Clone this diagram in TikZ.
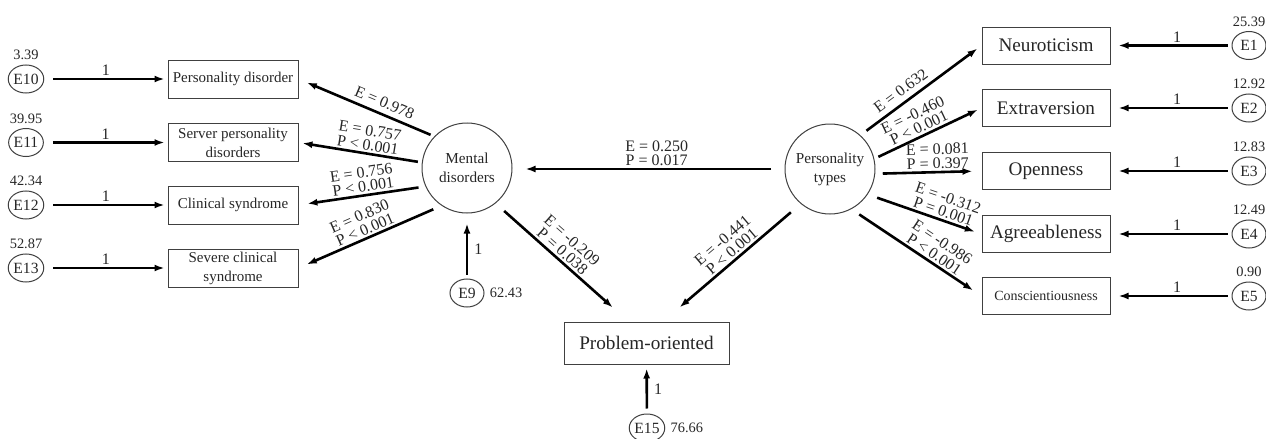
\documentclass[tikz,border=0pt]{standalone}
\usepackage{fontspec}
\setmainfont{Liberation Serif}
\usetikzlibrary{arrows.meta,shapes.geometric,calc}
\begin{document}
\begin{tikzpicture}[x=0.5pt,y=-0.5pt,
  every node/.style={text=black!85},
  box/.style={draw=black!75, line width=0.5pt, minimum width=65pt, minimum height=19pt, inner sep=1pt, align=center, font=\fontsize{7.5}{9.5}\selectfont},
  rbox/.style={draw=black!75, line width=0.5pt, minimum width=64pt, minimum height=18.5pt, inner sep=1pt, font=\fontsize{9.6}{11}\selectfont},
  lat/.style={draw=black!75, line width=0.5pt, circle, minimum size=45pt, inner sep=0pt, align=center, font=\fontsize{7.6}{9.5}\selectfont},
  err/.style={draw=black!75, line width=0.5pt, ellipse, minimum width=17pt, minimum height=14pt, inner sep=0pt, font=\fontsize{7.8}{9}\selectfont},
  arr/.style={line width=1.3pt, -{Latex[length=5pt,width=3.5pt]}},
  lbl/.style={font=\fontsize{8}{7.2}\selectfont, align=center, inner sep=1pt},
  num/.style={font=\fontsize{7.2}{8}\selectfont, inner sep=0.5pt}
]
\useasboundingbox (0,0) rectangle (1266,439);

% left observed
\node[box] (pd)  at (233,79)  {Personality disorder};
\node[box] (spd) at (233,142.5) {Server personality\\disorders};
\node[box] (cs)  at (233,205) {Clinical syndrome};
\node[box] (scs) at (233,268) {Severe clinical\\syndrome};

% left errors
\node[err, label={[num,label distance=1.5pt]above:3.39}]  (e10) at (26,79)  {E10};
\node[err, label={[num,label distance=1.5pt]above:39.95}] (e11) at (26,142.5) {E11};
\node[err, label={[num,label distance=1.5pt]above:42.34}] (e12) at (26,205) {E12};
\node[err, label={[num,label distance=1.5pt]above:52.87}] (e13) at (26,268) {E13};

% latent
\node[lat] (md) at (467,168) {Mental\\disorders};
\node[lat] (pt) at (830,169) {Personality\\types};

% right observed
\node[rbox] (neu) at (1046,45.5) {Neuroticism};
\node[rbox] (ext) at (1046,108) {Extraversion};
\node[rbox] (ope) at (1046,171) {Openness};
\node[rbox] (agr) at (1046,234) {Agreeableness};
\node[rbox, font=\fontsize{7}{8}\selectfont] (con) at (1046,296) {Conscientiousness};

% right errors
\node[err, label={[num,label distance=1.5pt]above:25.39}] (e1) at (1249,45.5) {E1};
\node[err, label={[num,label distance=1.5pt]above:12.92}] (e2) at (1249,108) {E2};
\node[err, label={[num,label distance=1.5pt]above:12.83}] (e3) at (1249,171) {E3};
\node[err, label={[num,label distance=1.5pt]above:12.49}] (e4) at (1249,234) {E4};
\node[err, label={[num,label distance=1.5pt]above:0.90}]  (e5) at (1249,296) {E5};

% problem oriented
\node[draw=black!75, line width=0.5pt, minimum width=82.5pt, minimum height=21pt, font=\fontsize{9.6}{11}\selectfont] (po) at (646.5,343) {Problem-oriented};
\node[err, label={[num,label distance=2pt]right:62.43}] (e9) at (467,293) {E9};
\node[err, label={[num,label distance=2pt]right:76.66}] (e15) at (647,428) {E15};

% error arrows left
\foreach \e/\b in {e10/pd, e11/spd, e12/cs, e13/scs}
  \draw[arr, shorten <=4.5pt, shorten >=1.5pt] (\e) -- (\b) node[lbl, above, midway] {1};
% error arrows right
\foreach \e/\b in {e1/neu, e2/ext, e3/ope, e4/agr, e5/con}
  \draw[arr, shorten <=2pt, shorten >=4pt] (\e) -- (\b) node[lbl, above, pos=0.45] {1};

\draw[arr, shorten <=2pt, shorten >=5pt] (e9) -- (md) node[lbl, right=2pt, pos=0.45] {1};
\draw[arr, shorten <=2.5pt, shorten >=2pt] (e15) -- (po) node[lbl, right=2pt, pos=0.5] {1};

% mental disorders -> indicators
\draw[arr, shorten <=2pt, shorten >=4.5pt] (md.136) -- (pd.east) node[lbl, above=1.5pt, sloped, pos=0.4] {E = 0.978};
\draw[arr, shorten <=2pt, shorten >=2pt] (md.173) -- (spd.east) node[lbl, above, sloped, pos=0.45] {E = 0.757\\P < 0.001};
\draw[arr, shorten <=3.5pt, shorten >=4.5pt] (md.204.6) -- (cs.east) node[lbl, above, sloped, pos=0.48] {E = 0.756\\P < 0.001};
\draw[arr, shorten <=4.5pt, shorten >=4.5pt] (md.236) -- (scs.east) node[lbl, above, sloped, pos=0.51] {E = 0.830\\P < 0.001};

% personality types -> indicators
\draw[arr, shorten <=3.75pt, shorten >=2.5pt] (pt.48) -- (neu.west) node[lbl, above=1.5pt, sloped, pos=0.39] {E = 0.632};
\draw[arr, shorten <=2.25pt, shorten >=2pt] (pt.13) -- (ext.west) node[lbl, above, sloped, pos=0.45] {E = -0.460\\P < 0.001};
\draw[arr, shorten <=3.75pt, shorten >=4.5pt] (pt.-6.6) -- (ope.west) node[lbl, above, sloped, pos=0.59] {E = 0.081\\P = 0.397};
\draw[arr, shorten <=5pt, shorten >=3.5pt] (pt.-34.6) -- (agr.west) node[lbl, above, sloped, pos=0.64] {E = -0.312\\P = 0.001};
\draw[arr, shorten <=4.75pt, shorten >=5pt] (pt.-62.5) -- (con.west) node[lbl, above, sloped, pos=0.6] {E = -0.986\\P < 0.001};

% structural paths
\draw[arr, shorten <=6.75pt, shorten >=6.5pt] (pt.west) -- (md.east |- pt.west) node[lbl, above, pos=0.47] {E = 0.250\\P = 0.017};
\draw[arr, shorten <=5.7pt, shorten >=10.5pt] (md.-51.5) -- ([xshift=-9pt]po.north) node[lbl, above, sloped, pos=0.46] {E = -0.209\\P = 0.038};
\draw[arr, shorten <=6.5pt, shorten >=10.9pt] (pt.230) -- ([xshift=8.25pt]po.north) node[lbl, above, sloped, pos=0.46] {E = -0.441\\P < 0.001};
\end{tikzpicture}
\end{document}
